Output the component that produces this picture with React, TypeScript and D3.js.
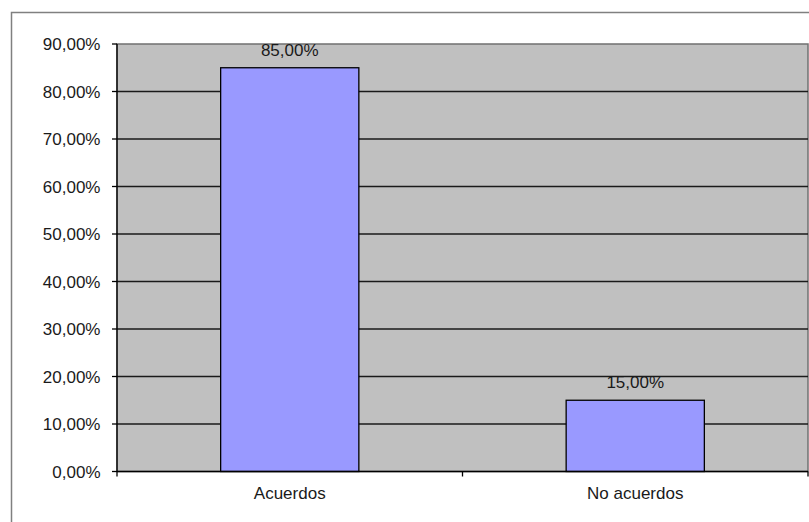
import React from "react";
import * as d3 from "d3";

const categories = ["Acuerdos", "No acuerdos"];
const values = [0.85, 0.15];
const yTicks = [0, 0.1, 0.2, 0.3, 0.4, 0.5, 0.6, 0.7, 0.8, 0.9];

const W = 809;
const H = 522;
const plot = { left: 117, right: 808, top: 44, bottom: 471.5 };
const FONT = "'Liberation Sans', Arial, sans-serif";

const fmt = (v: number) => (v * 100).toFixed(2).replace(".", ",") + "%";

export default function App() {
  const x = d3
    .scaleBand<string>()
    .domain(categories)
    .range([plot.left, plot.right])
    .paddingInner(0.6)
    .paddingOuter(0.3);
  const y = d3.scaleLinear().domain([0, 0.9]).range([plot.bottom, plot.top]);
  const step = x.step();
  const boundaries = d3.range(categories.length + 1).map((i) => plot.left + i * step);

  return (
    <svg
      width={W}
      height={H}
      style={{ position: "fixed", left: 0, top: 0, display: "block", background: "#fff" }}
    >
      {/* outer chart frame */}
      <rect x={11.5} y={12.5} width={W} height={H} fill="#fff" stroke="#808080" strokeWidth={1.5} />

      {/* plot area */}
      <rect
        x={plot.left}
        y={plot.top}
        width={plot.right - plot.left}
        height={plot.bottom - plot.top}
        fill="#c0c0c0"
        stroke="#707070"
        strokeWidth={1.5}
      />

      {/* gridlines */}
      {yTicks.slice(1, -1).map((t) => (
        <line
          key={t}
          x1={plot.left}
          x2={plot.right}
          y1={y(t)}
          y2={y(t)}
          stroke="#1a1a1a"
          strokeWidth={1.3}
        />
      ))}

      {/* bars */}
      {categories.map((c, i) => (
        <rect
          key={c}
          x={x(c)}
          y={y(values[i])}
          width={x.bandwidth()}
          height={y(0) - y(values[i])}
          fill="#9999ff"
          stroke="#000"
          strokeWidth={1.3}
        />
      ))}

      {/* value labels */}
      {categories.map((c, i) => (
        <text
          key={c}
          x={(x(c) as number) + x.bandwidth() / 2}
          y={y(values[i]) - 12}
          textAnchor="middle"
          fontFamily={FONT}
          fontSize={17}
          fill="#1a1a1a"
        >
          {fmt(values[i])}
        </text>
      ))}

      {/* y axis */}
      <line x1={plot.left} x2={plot.left} y1={plot.top} y2={plot.bottom} stroke="#000" strokeWidth={1.3} />
      {yTicks.map((t) => (
        <g key={t}>
          <line x1={plot.left - 5} x2={plot.left} y1={y(t)} y2={y(t)} stroke="#000" strokeWidth={1.3} />
          <text
            x={100.5}
            y={y(t)}
            dy="0.38em"
            textAnchor="end"
            fontFamily={FONT}
            fontSize={17}
            fill="#1a1a1a"
          >
            {fmt(t)}
          </text>
        </g>
      ))}

      {/* x axis */}
      <line x1={plot.left} x2={plot.right} y1={plot.bottom} y2={plot.bottom} stroke="#000" strokeWidth={1.5} />
      {boundaries.map((b) => (
        <line key={b} x1={b} x2={b} y1={plot.bottom} y2={plot.bottom + 5} stroke="#000" strokeWidth={1.3} />
      ))}
      {categories.map((c) => (
        <text
          key={c}
          x={(x(c) as number) + x.bandwidth() / 2}
          y={499}
          textAnchor="middle"
          fontFamily={FONT}
          fontSize={17}
          fill="#1a1a1a"
        >
          {c}
        </text>
      ))}
    </svg>
  );
}
